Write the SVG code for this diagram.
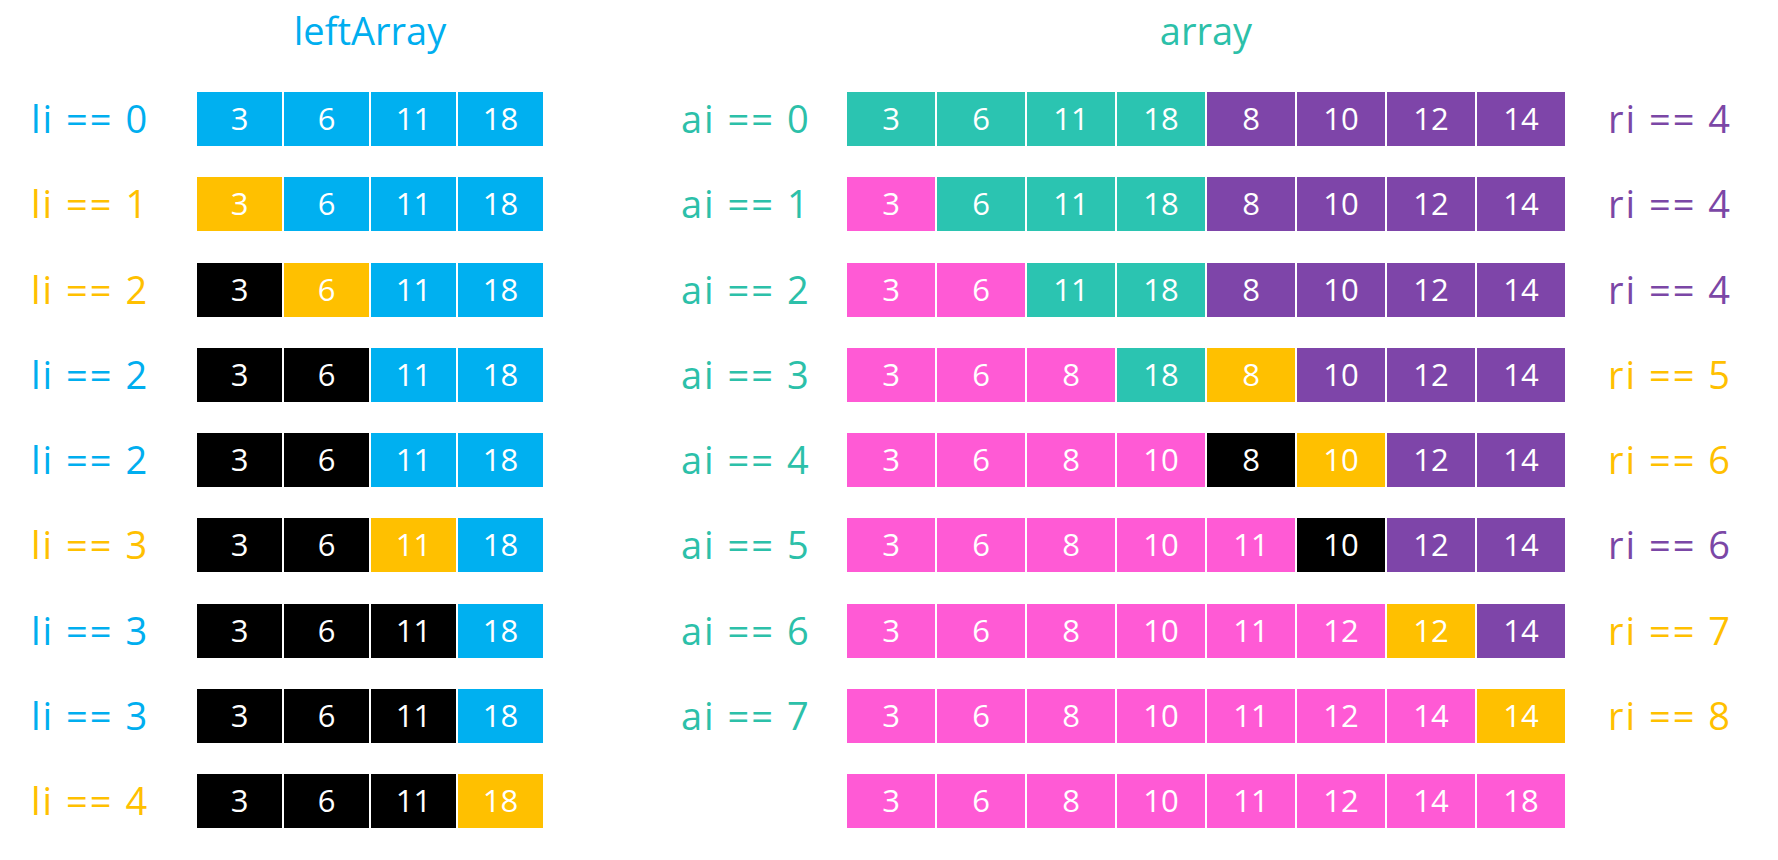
<svg xmlns="http://www.w3.org/2000/svg" width="1778" height="860" viewBox="0 0 1778 860">
<style>
rect{stroke:#fff;stroke-width:2}
.b{fill:#00B0F0}.y{fill:#FFC000}.k{fill:#000}.t{fill:#2BC4B1}.p{fill:#7E45A9}.m{fill:#FF5AD5}
text{font-family:"Open Sans","Noto Sans",sans-serif}
.n{fill:#fff;font-size:31px;text-anchor:middle}
.lb{font-size:38px;letter-spacing:2px}
.title{font-size:38px;text-anchor:middle}
.cb{fill:#00AEEF}.cy{fill:#FFC000}.ct{fill:#2CC0A9}.cp{fill:#7B47A6}
</style>
<rect width="1778" height="860" fill="#fff" stroke="none"/>
<text id="title-left" class="title cb" x="370" y="45">leftArray</text>
<text id="title-right" class="title ct" x="1206" y="45">array</text>

<g id="left-rows">
<g id="L0"><text class="lb cb" x="31" y="133">li == 0</text>
<rect class="b" x="196" y="91" width="87" height="56"/><rect class="b" x="283" y="91" width="87" height="56"/><rect class="b" x="370" y="91" width="87" height="56"/><rect class="b" x="457" y="91" width="87" height="56"/>
<text class="n" x="239.5" y="130">3</text><text class="n" x="326.5" y="130">6</text><text class="n" x="413.5" y="130">11</text><text class="n" x="500.5" y="130">18</text></g>
<g id="L1"><text class="lb cy" x="31" y="218">li == 1</text>
<rect class="y" x="196" y="176" width="87" height="56"/><rect class="b" x="283" y="176" width="87" height="56"/><rect class="b" x="370" y="176" width="87" height="56"/><rect class="b" x="457" y="176" width="87" height="56"/>
<text class="n" x="239.5" y="215">3</text><text class="n" x="326.5" y="215">6</text><text class="n" x="413.5" y="215">11</text><text class="n" x="500.5" y="215">18</text></g>
<g id="L2"><text class="lb cy" x="31" y="304">li == 2</text>
<rect class="k" x="196" y="262" width="87" height="56"/><rect class="y" x="283" y="262" width="87" height="56"/><rect class="b" x="370" y="262" width="87" height="56"/><rect class="b" x="457" y="262" width="87" height="56"/>
<text class="n" x="239.5" y="301">3</text><text class="n" x="326.5" y="301">6</text><text class="n" x="413.5" y="301">11</text><text class="n" x="500.5" y="301">18</text></g>
<g id="L3"><text class="lb cb" x="31" y="389">li == 2</text>
<rect class="k" x="196" y="347" width="87" height="56"/><rect class="k" x="283" y="347" width="87" height="56"/><rect class="b" x="370" y="347" width="87" height="56"/><rect class="b" x="457" y="347" width="87" height="56"/>
<text class="n" x="239.5" y="386">3</text><text class="n" x="326.5" y="386">6</text><text class="n" x="413.5" y="386">11</text><text class="n" x="500.5" y="386">18</text></g>
<g id="L4"><text class="lb cb" x="31" y="474">li == 2</text>
<rect class="k" x="196" y="432" width="87" height="56"/><rect class="k" x="283" y="432" width="87" height="56"/><rect class="b" x="370" y="432" width="87" height="56"/><rect class="b" x="457" y="432" width="87" height="56"/>
<text class="n" x="239.5" y="471">3</text><text class="n" x="326.5" y="471">6</text><text class="n" x="413.5" y="471">11</text><text class="n" x="500.5" y="471">18</text></g>
<g id="L5"><text class="lb cy" x="31" y="559">li == 3</text>
<rect class="k" x="196" y="517" width="87" height="56"/><rect class="k" x="283" y="517" width="87" height="56"/><rect class="y" x="370" y="517" width="87" height="56"/><rect class="b" x="457" y="517" width="87" height="56"/>
<text class="n" x="239.5" y="556">3</text><text class="n" x="326.5" y="556">6</text><text class="n" x="413.5" y="556">11</text><text class="n" x="500.5" y="556">18</text></g>
<g id="L6"><text class="lb cb" x="31" y="645">li == 3</text>
<rect class="k" x="196" y="603" width="87" height="56"/><rect class="k" x="283" y="603" width="87" height="56"/><rect class="k" x="370" y="603" width="87" height="56"/><rect class="b" x="457" y="603" width="87" height="56"/>
<text class="n" x="239.5" y="642">3</text><text class="n" x="326.5" y="642">6</text><text class="n" x="413.5" y="642">11</text><text class="n" x="500.5" y="642">18</text></g>
<g id="L7"><text class="lb cb" x="31" y="730">li == 3</text>
<rect class="k" x="196" y="688" width="87" height="56"/><rect class="k" x="283" y="688" width="87" height="56"/><rect class="k" x="370" y="688" width="87" height="56"/><rect class="b" x="457" y="688" width="87" height="56"/>
<text class="n" x="239.5" y="727">3</text><text class="n" x="326.5" y="727">6</text><text class="n" x="413.5" y="727">11</text><text class="n" x="500.5" y="727">18</text></g>
<g id="L8"><text class="lb cy" x="31" y="815">li == 4</text>
<rect class="k" x="196" y="773" width="87" height="56"/><rect class="k" x="283" y="773" width="87" height="56"/><rect class="k" x="370" y="773" width="87" height="56"/><rect class="y" x="457" y="773" width="87" height="56"/>
<text class="n" x="239.5" y="812">3</text><text class="n" x="326.5" y="812">6</text><text class="n" x="413.5" y="812">11</text><text class="n" x="500.5" y="812">18</text></g>
</g>

<g id="right-rows">
<g id="R0"><text class="lb ct" x="681" y="133">ai == 0</text><text class="lb cp" x="1608" y="133">ri == 4</text>
<rect class="t" x="846" y="91" width="90" height="56"/><rect class="t" x="936" y="91" width="90" height="56"/><rect class="t" x="1026" y="91" width="90" height="56"/><rect class="t" x="1116" y="91" width="90" height="56"/><rect class="p" x="1206" y="91" width="90" height="56"/><rect class="p" x="1296" y="91" width="90" height="56"/><rect class="p" x="1386" y="91" width="90" height="56"/><rect class="p" x="1476" y="91" width="90" height="56"/>
<text class="n" x="891" y="130">3</text><text class="n" x="981" y="130">6</text><text class="n" x="1071" y="130">11</text><text class="n" x="1161" y="130">18</text><text class="n" x="1251" y="130">8</text><text class="n" x="1341" y="130">10</text><text class="n" x="1431" y="130">12</text><text class="n" x="1521" y="130">14</text></g>
<g id="R1"><text class="lb ct" x="681" y="218">ai == 1</text><text class="lb cp" x="1608" y="218">ri == 4</text>
<rect class="m" x="846" y="176" width="90" height="56"/><rect class="t" x="936" y="176" width="90" height="56"/><rect class="t" x="1026" y="176" width="90" height="56"/><rect class="t" x="1116" y="176" width="90" height="56"/><rect class="p" x="1206" y="176" width="90" height="56"/><rect class="p" x="1296" y="176" width="90" height="56"/><rect class="p" x="1386" y="176" width="90" height="56"/><rect class="p" x="1476" y="176" width="90" height="56"/>
<text class="n" x="891" y="215">3</text><text class="n" x="981" y="215">6</text><text class="n" x="1071" y="215">11</text><text class="n" x="1161" y="215">18</text><text class="n" x="1251" y="215">8</text><text class="n" x="1341" y="215">10</text><text class="n" x="1431" y="215">12</text><text class="n" x="1521" y="215">14</text></g>
<g id="R2"><text class="lb ct" x="681" y="304">ai == 2</text><text class="lb cp" x="1608" y="304">ri == 4</text>
<rect class="m" x="846" y="262" width="90" height="56"/><rect class="m" x="936" y="262" width="90" height="56"/><rect class="t" x="1026" y="262" width="90" height="56"/><rect class="t" x="1116" y="262" width="90" height="56"/><rect class="p" x="1206" y="262" width="90" height="56"/><rect class="p" x="1296" y="262" width="90" height="56"/><rect class="p" x="1386" y="262" width="90" height="56"/><rect class="p" x="1476" y="262" width="90" height="56"/>
<text class="n" x="891" y="301">3</text><text class="n" x="981" y="301">6</text><text class="n" x="1071" y="301">11</text><text class="n" x="1161" y="301">18</text><text class="n" x="1251" y="301">8</text><text class="n" x="1341" y="301">10</text><text class="n" x="1431" y="301">12</text><text class="n" x="1521" y="301">14</text></g>
<g id="R3"><text class="lb ct" x="681" y="389">ai == 3</text><text class="lb cy" x="1608" y="389">ri == 5</text>
<rect class="m" x="846" y="347" width="90" height="56"/><rect class="m" x="936" y="347" width="90" height="56"/><rect class="m" x="1026" y="347" width="90" height="56"/><rect class="t" x="1116" y="347" width="90" height="56"/><rect class="y" x="1206" y="347" width="90" height="56"/><rect class="p" x="1296" y="347" width="90" height="56"/><rect class="p" x="1386" y="347" width="90" height="56"/><rect class="p" x="1476" y="347" width="90" height="56"/>
<text class="n" x="891" y="386">3</text><text class="n" x="981" y="386">6</text><text class="n" x="1071" y="386">8</text><text class="n" x="1161" y="386">18</text><text class="n" x="1251" y="386">8</text><text class="n" x="1341" y="386">10</text><text class="n" x="1431" y="386">12</text><text class="n" x="1521" y="386">14</text></g>
<g id="R4"><text class="lb ct" x="681" y="474">ai == 4</text><text class="lb cy" x="1608" y="474">ri == 6</text>
<rect class="m" x="846" y="432" width="90" height="56"/><rect class="m" x="936" y="432" width="90" height="56"/><rect class="m" x="1026" y="432" width="90" height="56"/><rect class="m" x="1116" y="432" width="90" height="56"/><rect class="k" x="1206" y="432" width="90" height="56"/><rect class="y" x="1296" y="432" width="90" height="56"/><rect class="p" x="1386" y="432" width="90" height="56"/><rect class="p" x="1476" y="432" width="90" height="56"/>
<text class="n" x="891" y="471">3</text><text class="n" x="981" y="471">6</text><text class="n" x="1071" y="471">8</text><text class="n" x="1161" y="471">10</text><text class="n" x="1251" y="471">8</text><text class="n" x="1341" y="471">10</text><text class="n" x="1431" y="471">12</text><text class="n" x="1521" y="471">14</text></g>
<g id="R5"><text class="lb ct" x="681" y="559">ai == 5</text><text class="lb cp" x="1608" y="559">ri == 6</text>
<rect class="m" x="846" y="517" width="90" height="56"/><rect class="m" x="936" y="517" width="90" height="56"/><rect class="m" x="1026" y="517" width="90" height="56"/><rect class="m" x="1116" y="517" width="90" height="56"/><rect class="m" x="1206" y="517" width="90" height="56"/><rect class="k" x="1296" y="517" width="90" height="56"/><rect class="p" x="1386" y="517" width="90" height="56"/><rect class="p" x="1476" y="517" width="90" height="56"/>
<text class="n" x="891" y="556">3</text><text class="n" x="981" y="556">6</text><text class="n" x="1071" y="556">8</text><text class="n" x="1161" y="556">10</text><text class="n" x="1251" y="556">11</text><text class="n" x="1341" y="556">10</text><text class="n" x="1431" y="556">12</text><text class="n" x="1521" y="556">14</text></g>
<g id="R6"><text class="lb ct" x="681" y="645">ai == 6</text><text class="lb cy" x="1608" y="645">ri == 7</text>
<rect class="m" x="846" y="603" width="90" height="56"/><rect class="m" x="936" y="603" width="90" height="56"/><rect class="m" x="1026" y="603" width="90" height="56"/><rect class="m" x="1116" y="603" width="90" height="56"/><rect class="m" x="1206" y="603" width="90" height="56"/><rect class="m" x="1296" y="603" width="90" height="56"/><rect class="y" x="1386" y="603" width="90" height="56"/><rect class="p" x="1476" y="603" width="90" height="56"/>
<text class="n" x="891" y="642">3</text><text class="n" x="981" y="642">6</text><text class="n" x="1071" y="642">8</text><text class="n" x="1161" y="642">10</text><text class="n" x="1251" y="642">11</text><text class="n" x="1341" y="642">12</text><text class="n" x="1431" y="642">12</text><text class="n" x="1521" y="642">14</text></g>
<g id="R7"><text class="lb ct" x="681" y="730">ai == 7</text><text class="lb cy" x="1608" y="730">ri == 8</text>
<rect class="m" x="846" y="688" width="90" height="56"/><rect class="m" x="936" y="688" width="90" height="56"/><rect class="m" x="1026" y="688" width="90" height="56"/><rect class="m" x="1116" y="688" width="90" height="56"/><rect class="m" x="1206" y="688" width="90" height="56"/><rect class="m" x="1296" y="688" width="90" height="56"/><rect class="m" x="1386" y="688" width="90" height="56"/><rect class="y" x="1476" y="688" width="90" height="56"/>
<text class="n" x="891" y="727">3</text><text class="n" x="981" y="727">6</text><text class="n" x="1071" y="727">8</text><text class="n" x="1161" y="727">10</text><text class="n" x="1251" y="727">11</text><text class="n" x="1341" y="727">12</text><text class="n" x="1431" y="727">14</text><text class="n" x="1521" y="727">14</text></g>
<g id="R8">
<rect class="m" x="846" y="773" width="90" height="56"/><rect class="m" x="936" y="773" width="90" height="56"/><rect class="m" x="1026" y="773" width="90" height="56"/><rect class="m" x="1116" y="773" width="90" height="56"/><rect class="m" x="1206" y="773" width="90" height="56"/><rect class="m" x="1296" y="773" width="90" height="56"/><rect class="m" x="1386" y="773" width="90" height="56"/><rect class="m" x="1476" y="773" width="90" height="56"/>
<text class="n" x="891" y="812">3</text><text class="n" x="981" y="812">6</text><text class="n" x="1071" y="812">8</text><text class="n" x="1161" y="812">10</text><text class="n" x="1251" y="812">11</text><text class="n" x="1341" y="812">12</text><text class="n" x="1431" y="812">14</text><text class="n" x="1521" y="812">18</text></g>
</g>
<g id="connectors"/>
</svg>
